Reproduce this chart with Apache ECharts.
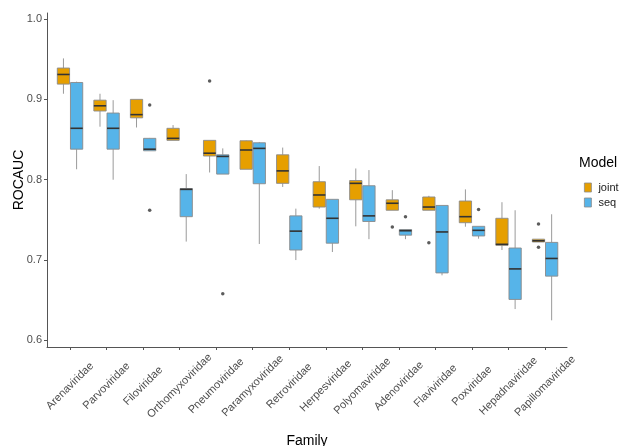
<!DOCTYPE html>
<html>
<head>
<meta charset="utf-8">
<script src="https://cdn.jsdelivr.net/npm/echarts@6/dist/echarts.min.js"></script>
<style>html,body{margin:0;padding:0;background:#fff}#c{width:622px;height:446px}</style>
</head>
<body>
<div id="c"></div>
<script>
// ---- data ----
const categories = ['Arenaviridae','Parvoviridae','Filoviridae','Orthomyxoviridae','Pneumoviridae','Paramyxoviridae','Retroviridae','Herpesviridae','Polyomaviridae','Adenoviridae','Flaviviridae','Poxviridae','Hepadnaviridae','Papillomaviridae'];
// [lower whisker, Q1, median, Q3, upper whisker]
const jointStats = [
  [0.907, 0.919, 0.931, 0.939, 0.951],
  [0.866, 0.8855, 0.892, 0.899, 0.907],
  [0.865, 0.877, 0.881, 0.900, 0.900],
  [0.849, 0.849, 0.8515, 0.864, 0.868],
  [0.809, 0.8295, 0.833, 0.849, 0.849],
  [0.813, 0.813, 0.837, 0.8485, 0.849],
  [0.791, 0.7955, 0.811, 0.831, 0.840],
  [0.764, 0.766, 0.781, 0.7975, 0.817],
  [0.742, 0.775, 0.7955, 0.799, 0.814],
  [0.762, 0.762, 0.7707, 0.775, 0.787],
  [0.762, 0.762, 0.766, 0.7785, 0.780],
  [0.7415, 0.7465, 0.754, 0.7735, 0.788],
  [0.7125, 0.7184, 0.7196, 0.752, 0.772],
  [0.7225, 0.7225, 0.724, 0.726, 0.726]
];
const seqStats = [
  [0.813, 0.838, 0.864, 0.921, 0.922],
  [0.800, 0.838, 0.864, 0.883, 0.899],
  [0.836, 0.836, 0.838, 0.8515, 0.852],
  [0.723, 0.754, 0.788, 0.789, 0.807],
  [0.807, 0.807, 0.829, 0.831, 0.839],
  [0.720, 0.795, 0.839, 0.846, 0.847],
  [0.700, 0.7125, 0.736, 0.755, 0.764],
  [0.710, 0.721, 0.752, 0.7756, 0.776],
  [0.726, 0.748, 0.755, 0.7925, 0.812],
  [0.726, 0.731, 0.7365, 0.738, 0.738],
  [0.681, 0.684, 0.735, 0.768, 0.768],
  [0.7266, 0.730, 0.737, 0.742, 0.742],
  [0.639, 0.651, 0.689, 0.715, 0.762],
  [0.625, 0.680, 0.702, 0.722, 0.757]
];
// outliers: [category index, value]
const jointOutliers = [[4, 0.923], [9, 0.741], [10, 0.7216], [13, 0.745], [13, 0.716]];
const seqOutliers = [[2, 0.893], [2, 0.762], [4, 0.658], [9, 0.754], [11, 0.763]];
const yTicks = [0.6, 0.7, 0.8, 0.9, 1.0];

// ---- style ----
const JOINT = '#E69F00', SEQ = '#56B4E9';
const DODGE = 0.18, HW = 0.168;
const FONT = 'Liberation Sans, Arial, sans-serif';

function render(offset, color) {
  return function (params, api) {
    const x = api.value(0) + offset;
    const lo = api.value(1), q1 = api.value(2), med = api.value(3), q3 = api.value(4), hi = api.value(5);
    const tl = api.coord([x - HW, q3]);
    const br = api.coord([x + HW, q1]);
    const top = api.coord([x, hi]);
    const bot = api.coord([x, lo]);
    const m = api.coord([x, med]);
    return {
      type: 'group',
      children: [
        { type: 'line', shape: { x1: top[0], y1: top[1], x2: top[0], y2: tl[1] }, style: { stroke: '#9a9a9a', lineWidth: 1 } },
        { type: 'line', shape: { x1: bot[0], y1: br[1], x2: bot[0], y2: bot[1] }, style: { stroke: '#9a9a9a', lineWidth: 1 } },
        { type: 'rect', shape: { x: tl[0], y: tl[1], width: br[0] - tl[0], height: Math.max(br[1] - tl[1], 0.5) }, style: { fill: color, stroke: '#8a8a8a', lineWidth: 0.9 } },
        { type: 'line', shape: { x1: tl[0], y1: m[1], x2: br[0], y2: m[1] }, style: { stroke: '#333', lineWidth: 1.6 } }
      ]
    };
  };
}

const jointData = jointStats.map((s, i) => [i].concat(s));
const seqData = seqStats.map((s, i) => [i].concat(s));
const xTickVals = categories.map((c, i) => i);

const chart = echarts.init(document.getElementById('c'));
chart.setOption({
  backgroundColor: '#fff',
  animation: false,
  textStyle: { fontFamily: FONT },
  grid: { left: 47, right: 55, top: 13, bottom: 99, containLabel: false, outerBoundsMode: 'none' },
  xAxis: {
    type: 'value', min: -0.63, max: 13.6,
    splitLine: { show: false },
    axisLine: { show: true, onZero: false, lineStyle: { color: '#555', width: 1 } },
    axisTick: { show: true, customValues: xTickVals, length: 3, lineStyle: { color: '#555' } },
    axisLabel: {
      customValues: xTickVals,
      formatter: v => categories[Math.round(v)],
      rotate: 45, align: 'center', verticalAlign: 'middle', margin: 39,
      fontSize: 11, color: '#4d4d4d', fontFamily: FONT
    },
    name: 'Family', nameLocation: 'middle', nameGap: 87, nameMoveOverlap: false,
    nameTextStyle: { fontSize: 14, color: '#000', fontFamily: FONT }
  },
  yAxis: {
    type: 'value', min: 0.5918, max: 1.0075,
    splitLine: { show: false },
    axisLine: { show: true, onZero: false, lineStyle: { color: '#555', width: 1 } },
    axisTick: { show: true, customValues: yTicks, length: 3, lineStyle: { color: '#555' } },
    axisLabel: { customValues: yTicks, formatter: v => v.toFixed(1), fontSize: 11, color: '#4d4d4d', margin: 5, fontFamily: FONT },
    name: 'ROCAUC', nameLocation: 'middle', nameGap: 21, nameMoveOverlap: false,
    nameTextStyle: { fontSize: 14, color: '#000', fontFamily: FONT }
  },
  legend: {
    data: ['joint', 'seq'], orient: 'vertical', left: 579, top: 177,
    itemWidth: 7, itemHeight: 9, itemGap: 4, icon: 'rect',
    itemStyle: { borderColor: '#8a8a8a', borderWidth: 0.8 },
    textStyle: { fontSize: 11, color: '#1a1a1a', padding: [0, 0, 0, 2], fontFamily: FONT }
  },
  graphic: [{
    type: 'text', left: 579, top: 156,
    style: { text: 'Model', fontSize: 14, fill: '#000', fontFamily: FONT }
  }],
  series: [
    { name: 'joint', type: 'custom', renderItem: render(-DODGE, JOINT), data: jointData, encode: { x: 0, y: [1, 2, 3, 4, 5] }, itemStyle: { color: JOINT } },
    { name: 'seq', type: 'custom', renderItem: render(DODGE, SEQ), data: seqData, encode: { x: 0, y: [1, 2, 3, 4, 5] }, itemStyle: { color: SEQ } },
    { name: 'jointOut', type: 'scatter', symbolSize: 3.5, itemStyle: { color: '#333' }, data: jointOutliers.map(o => [o[0] - DODGE, o[1]]) },
    { name: 'seqOut', type: 'scatter', symbolSize: 3.5, itemStyle: { color: '#333' }, data: seqOutliers.map(o => [o[0] + DODGE, o[1]]) }
  ]
});
</script>
</body>
</html>
